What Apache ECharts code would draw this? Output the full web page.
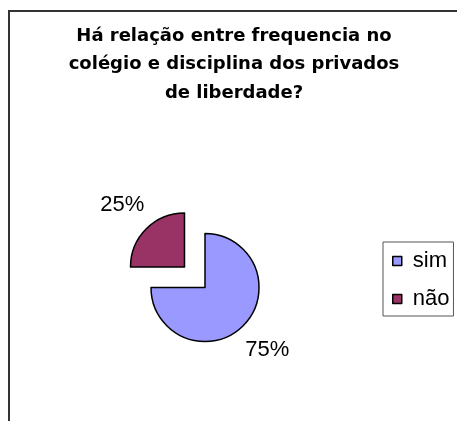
<!DOCTYPE html>
<html>
<head>
    <meta charset="UTF-8">
    <title>Frequencia e disciplina</title>
    <script type="text/javascript" src="https://cdn.jsdelivr.net/npm/echarts@6/dist/echarts.min.js"></script>
    <style>
        html, body { margin: 0; padding: 0; background: #fff; }
        #chart { width: 457px; height: 421px; }
    </style>
</head>
<body>
    <div id="chart"></div>
    <script>
        // dados
        var categorias = ['sim', 'não'];
        var valores = [75, 25];
        var cores = ['#9999ff', '#993366'];
        var explodido = [false, true];
        var titulo = 'Há relação entre frequencia no\ncolégio e disciplina dos privados\nde liberdade?';

        var chart = echarts.init(document.getElementById('chart'), null, {renderer: 'canvas'});

        var dados = categorias.map(function (nome, i) {
            return {
                name: nome,
                value: valores[i],
                selected: explodido[i],
                itemStyle: {color: cores[i]}
            };
        });

        var option = {
            animation: false,
            backgroundColor: '#fff',
            title: {
                text: titulo,
                left: 234,
                top: 22,
                padding: 0,
                textAlign: 'center',
                textStyle: {
                    fontFamily: 'DejaVu Sans',
                    fontWeight: 'bold',
                    fontSize: 18,
                    lineHeight: 28.5,
                    color: '#000'
                }
            },
            legend: {
                data: categorias,
                orient: 'vertical',
                left: 383,
                top: 242,
                padding: [8, 4, 6, 9],
                itemGap: 16,
                itemWidth: 9,
                itemHeight: 9,
                icon: 'rect',
                borderColor: '#555',
                borderWidth: 1,
                selectedMode: false,
                itemStyle: {borderColor: '#000', borderWidth: 1.5},
                textStyle: {
                    fontFamily: 'Liberation Sans',
                    fontSize: 22,
                    color: '#000',
                    padding: [0, 0, 0, 6]
                }
            },
            graphic: [{
                type: 'rect',
                silent: true,
                shape: {x: 9, y: 11, width: 600, height: 600},
                style: {fill: 'none', stroke: '#333', lineWidth: 2}
            }],
            series: [{
                type: 'pie',
                center: [205, 287.5],
                radius: 54,
                startAngle: 90,
                clockwise: true,
                selectedMode: 'single',
                selectedOffset: 29,
                itemStyle: {borderColor: '#000', borderWidth: 1.5},
                emphasis: {scale: false},
                select: {itemStyle: {borderColor: '#000', borderWidth: 1.5}},
                label: {
                    show: true,
                    position: 'outside',
                    formatter: '{d}%',
                    fontFamily: 'Liberation Sans',
                    fontSize: 22,
                    color: '#000',
                    distanceToLabelLine: 0
                },
                labelLine: {show: false, length: 34, length2: 0},
                labelLayout: function (p) {
                    var w = p.labelRect.width / 2;
                    return {dx: p.align === 'left' ? -w : w};
                },
                data: dados
            }]
        };
        chart.setOption(option);
    </script>
</body>
</html>
